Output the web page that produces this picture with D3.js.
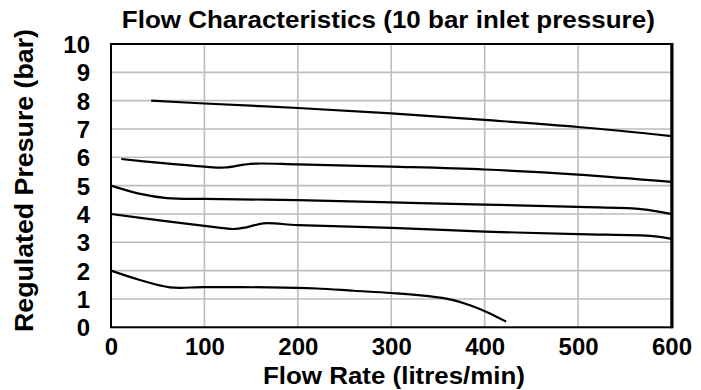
<!DOCTYPE html>
<html>
<head>
<meta charset="utf-8">
<script src="https://cdn.jsdelivr.net/npm/d3@7"></script>
<style>
  body { margin: 0; background: white; }
  text { font-family: "Liberation Sans", Arial, Helvetica, sans-serif; font-weight: bold; fill: #000; }
</style>
</head>
<body>
<div id="chart"></div>
<script>
var width = 701,
    height = 390

// axis ticks
var xTicks = [0, 100, 200, 300, 400, 500, 600]
var yTicks = [0, 1, 2, 3, 4, 5, 6, 7, 8, 9, 10]

// curves (flow in l/min, pressure in bar)
var flow8 = [43, 100, 200, 300, 400, 500, 600]
var pres8 = [8.0, 7.9, 7.74, 7.55, 7.32, 7.07, 6.75]

var flow6 = [11, 50, 100, 122, 142, 156, 200, 300, 400, 500, 600]
var pres6 = [5.94, 5.81, 5.67, 5.64, 5.74, 5.78, 5.75, 5.67, 5.57, 5.39, 5.13]

var flow5 = [0, 30, 60, 100, 200, 300, 400, 500, 565, 600]
var pres5 = [5.0, 4.72, 4.56, 4.53, 4.49, 4.41, 4.33, 4.25, 4.18, 4.0]

var flow4 = [0, 50, 100, 131, 145, 163, 200, 300, 400, 500, 580, 600]
var pres4 = [4.0, 3.78, 3.58, 3.47, 3.53, 3.67, 3.61, 3.51, 3.38, 3.29, 3.22, 3.12]

var flow2 = [0, 30, 63, 100, 170, 220, 260, 300, 340, 365, 385, 405, 423]
var pres2 = [2.0, 1.68, 1.41, 1.42, 1.41, 1.37, 1.29, 1.21, 1.1, 0.97, 0.77, 0.5, 0.2]

var curves = [[flow8, pres8], [flow6, pres6], [flow5, pres5], [flow4, pres4], [flow2, pres2]]

var svg = d3.select("#chart")
  .append("svg")
    .attr("width", width)
    .attr("height", height)
    .style("background-color", "white")

var x = d3.scaleLinear().domain([0, 600]).range([111, 671.5])
var y = d3.scaleLinear().domain([0, 10]).range([327.3, 44])

//grid
svg.append("g")
  .selectAll("line")
  .data(xTicks.slice(1, -1))
  .enter().append("line")
    .attr("x1", d => x(d)).attr("x2", d => x(d))
    .attr("y1", y(10)).attr("y2", y(0))
    .attr("stroke", "#bdbdbd").attr("stroke-width", 1.6)
svg.append("g")
  .selectAll("line")
  .data(yTicks.slice(1, -1))
  .enter().append("line")
    .attr("x1", x(0)).attr("x2", x(600))
    .attr("y1", d => y(d)).attr("y2", d => y(d))
    .attr("stroke", "#bdbdbd").attr("stroke-width", 1.6)

//curves
var line = d3.line()
  .x(d => x(d[0]))
  .y(d => y(d[1]))
  .curve(d3.curveCatmullRom.alpha(0.5))

svg.append("g")
  .selectAll("path")
  .data(curves.map(c => c[0].map((f, i) => [f, c[1][i]])))
  .enter().append("path")
    .attr("d", line)
    .attr("fill", "none")
    .attr("stroke", "#000")
    .attr("stroke-width", 2.2)

//frame
svg.append("rect")
  .attr("x", x(0)).attr("y", y(10))
  .attr("width", x(600) - x(0)).attr("height", y(0) - y(10))
  .attr("fill", "none").attr("stroke", "#000").attr("stroke-width", 2)
svg.append("line")
  .attr("x1", x(600) + 0.5).attr("x2", x(600) + 0.5)
  .attr("y1", y(10) - 1).attr("y2", y(0) + 1)
  .attr("stroke", "#000").attr("stroke-width", 3)

//axes (labels only)
var xAxis = svg.append("g")
  .attr("transform", "translate(0," + y(0) + ")")
  .call(d3.axisBottom(x).tickValues(xTicks).tickSize(0).tickPadding(0))
xAxis.select(".domain").remove()
xAxis.selectAll("text")
  .attr("dy", null).attr("y", 28)
  .style("font-size", "24px")
  .style("font-family", "'Liberation Sans', Arial, sans-serif")
  .style("font-weight", "bold")

var yAxis = svg.append("g")
  .attr("transform", "translate(90,0)")
  .call(d3.axisLeft(y).tickValues(yTicks).tickSize(0).tickPadding(0))
yAxis.select(".domain").remove()
yAxis.selectAll("text")
  .attr("x", 0).attr("dy", null).attr("y", 8.6)
  .style("font-size", "24px")
  .style("font-family", "'Liberation Sans', Arial, sans-serif")
  .style("font-weight", "bold")

//titles
svg.append("text")
  .attr("x", 388.3).attr("y", 28.3)
  .attr("text-anchor", "middle")
  .attr("textLength", 533).attr("lengthAdjust", "spacingAndGlyphs")
  .style("font-size", "23px")
  .text("Flow Characteristics (10 bar inlet pressure)")

svg.append("text")
  .attr("x", 394).attr("y", 384.3)
  .attr("text-anchor", "middle")
  .attr("textLength", 262).attr("lengthAdjust", "spacingAndGlyphs")
  .style("font-size", "23.5px")
  .text("Flow Rate (litres/min)")

svg.append("text")
  .attr("transform", "translate(33.3,180.5) rotate(-90)")
  .attr("text-anchor", "middle")
  .attr("textLength", 303).attr("lengthAdjust", "spacingAndGlyphs")
  .style("font-size", "25px")
  .text("Regulated Presure (bar)")
</script>
</body>
</html>
